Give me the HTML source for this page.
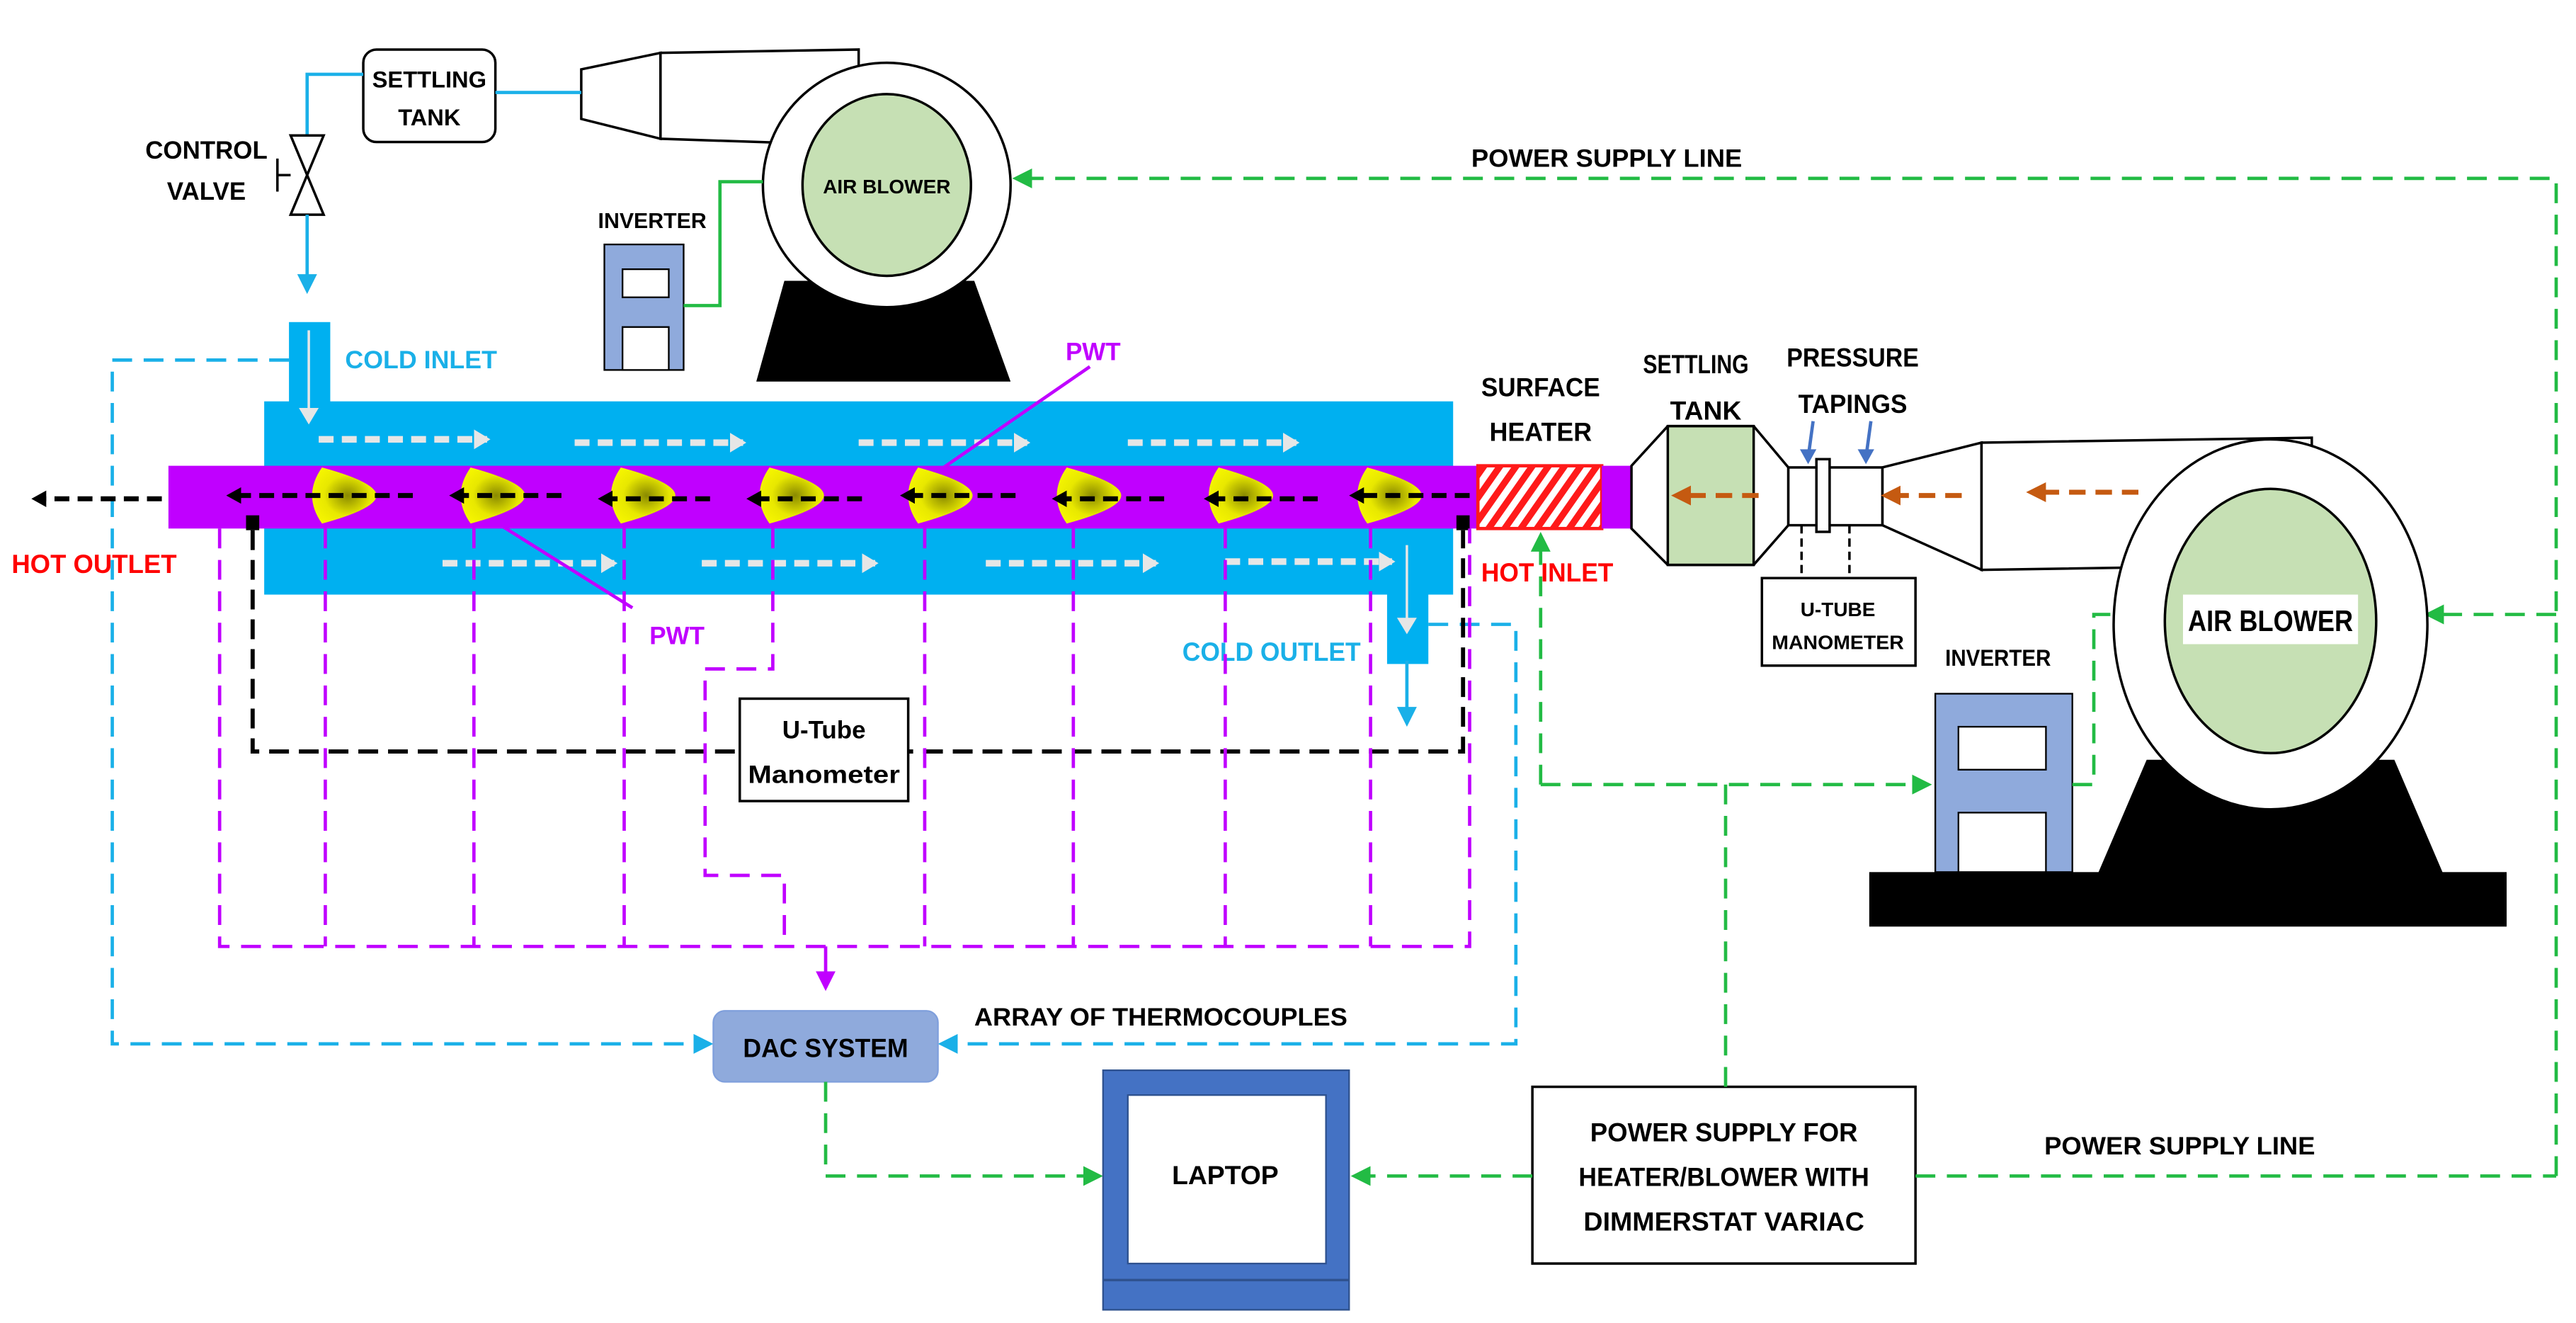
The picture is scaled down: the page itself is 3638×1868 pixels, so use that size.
<!DOCTYPE html>
<html><head><meta charset="utf-8"><style>
html,body{margin:0;padding:0;background:#fff}
svg{display:block}
text{font-family:"Liberation Sans",sans-serif;font-weight:bold}
</style></head><body>
<svg width="3638" height="1868" viewBox="0 0 1560 801" preserveAspectRatio="none" xmlns="http://www.w3.org/2000/svg">
<defs>
<pattern id="hatch" width="8" height="8" patternUnits="userSpaceOnUse" patternTransform="rotate(35)">
<rect width="8" height="8" fill="#fff"/><rect width="4" height="8" fill="#ff1a1a"/></pattern>
<radialGradient id="yg" cx="0.55" cy="0.5" r="0.6"><stop offset="0" stop-color="#8a8a00"/><stop offset="0.6" stop-color="#e8e800"/><stop offset="1" stop-color="#f5f500"/></radialGradient>
<marker id="ak" markerWidth="9" markerHeight="10" refX="6" refY="5" orient="auto" markerUnits="userSpaceOnUse"><path d="M0,0 L9,5 L0,10 Z" fill="#000"/></marker>
<marker id="ag" markerWidth="12" markerHeight="12" refX="10" refY="6" orient="auto" markerUnits="userSpaceOnUse"><path d="M0,0 L12,6 L0,12 Z" fill="#22bb44"/></marker>
<marker id="ab" markerWidth="12" markerHeight="12" refX="10" refY="6" orient="auto" markerUnits="userSpaceOnUse"><path d="M0,0 L12,6 L0,12 Z" fill="#1ab0e8"/></marker>
<marker id="am" markerWidth="12" markerHeight="12" refX="10" refY="6" orient="auto" markerUnits="userSpaceOnUse"><path d="M0,0 L12,6 L0,12 Z" fill="#c000ff"/></marker>
<marker id="aw" markerWidth="10" markerHeight="12" refX="8" refY="6" orient="auto" markerUnits="userSpaceOnUse"><path d="M0,0 L10,6 L0,12 Z" fill="#e6e6e6"/></marker>
<marker id="ao" markerWidth="12" markerHeight="12" refX="8" refY="6" orient="auto" markerUnits="userSpaceOnUse"><path d="M0,0 L12,6 L0,12 Z" fill="#c55a11"/></marker>
</defs>

<!-- top blower -->
<path d="M352,42 L400,32 L400,84 L352,72 Z" fill="#fff" stroke="#000" stroke-width="1.5"/>
<path d="M400,32 L520,30 L520,88 L400,84 Z" fill="#fff" stroke="#000" stroke-width="1.5"/>
<path d="M475,170 L590,170 L612,231 L458,231 Z" fill="#000"/>
<ellipse cx="537" cy="112" rx="75" ry="74" fill="#fff" stroke="#000" stroke-width="1.5"/>
<ellipse cx="537" cy="112" rx="51" ry="55" fill="#c6e0b4" stroke="#000" stroke-width="1.5"/>
<text x="537" y="117" font-size="12" text-anchor="middle">AIR BLOWER</text>
<!-- top inverter -->
<rect x="366" y="148" width="48" height="76" fill="#8faadc" stroke="#000" stroke-width="1"/>
<rect x="377" y="163" width="28" height="17" fill="#fff" stroke="#000"/>
<rect x="377" y="198" width="28" height="26" fill="#fff" stroke="#000"/>
<text x="395" y="138" font-size="13" text-anchor="middle">INVERTER</text>
<polyline points="414,185 436,185 436,110 462,110" fill="none" stroke="#22bb44" stroke-width="2"/>
<!-- settling tank top -->
<rect x="220" y="30" width="80" height="56" rx="8" fill="#fff" stroke="#000" stroke-width="1.5"/>
<text x="260" y="53" font-size="14" text-anchor="middle">SETTLING</text>
<text x="260" y="76" font-size="14" text-anchor="middle">TANK</text>
<line x1="300" y1="56" x2="352" y2="56" stroke="#1ab0e8" stroke-width="2"/>
<polyline points="220,45 186,45 186,82" fill="none" stroke="#1ab0e8" stroke-width="2"/>
<path d="M176,82 L196,82 L176,130 L196,130 Z" fill="#fff" stroke="#000" stroke-width="1.5"/>
<line x1="176" y1="106" x2="168" y2="106" stroke="#000" stroke-width="1.5"/>
<line x1="168" y1="96" x2="168" y2="116" stroke="#000" stroke-width="1.5"/>
<line x1="186" y1="130" x2="186" y2="168" stroke="#1ab0e8" stroke-width="2"/>
<path d="M180,166 L192,166 L186,178 Z" fill="#1ab0e8"/>
<text x="125" y="96" font-size="15" text-anchor="middle" textLength="74" lengthAdjust="spacingAndGlyphs">CONTROL</text>
<text x="125" y="121" font-size="15" text-anchor="middle">VALVE</text>

<!-- power supply top -->
<polyline points="1548,712 1548,108 615,108" fill="none" stroke="#22bb44" stroke-width="2" stroke-dasharray="12,7" marker-end="url(#ag)"/>
<text x="973" y="101" font-size="15" text-anchor="middle" textLength="164" lengthAdjust="spacingAndGlyphs">POWER SUPPLY LINE</text>
<line x1="1548" y1="372" x2="1470" y2="372" stroke="#22bb44" stroke-width="2" stroke-dasharray="12,7" marker-end="url(#ag)"/>

<!-- blue dashed thermocouple lines -->
<polyline points="175,218 68,218 68,632 430,632" fill="none" stroke="#1ab0e8" stroke-width="2" stroke-dasharray="12,7" marker-end="url(#ab)"/>
<polyline points="865,378 918,378 918,632 570,632" fill="none" stroke="#1ab0e8" stroke-width="2" stroke-dasharray="12,7" marker-end="url(#ab)"/>

<!-- water jacket -->
<rect x="160" y="243" width="720" height="117" fill="#00b0f0"/>
<rect x="175" y="195" width="25" height="50" fill="#00b0f0"/>
<line x1="187" y1="200" x2="187" y2="255" stroke="#e6e6e6" stroke-width="1.5" marker-end="url(#aw)"/>
<rect x="840" y="355" width="25" height="47" fill="#00b0f0"/>
<line x1="852" y1="330" x2="852" y2="382" stroke="#e6e6e6" stroke-width="1.5" marker-end="url(#aw)"/>
<line x1="852" y1="400" x2="852" y2="438" stroke="#1ab0e8" stroke-width="2" marker-end="url(#ab)"/>
<text x="255" y="223" font-size="15" fill="#1ab0e8" text-anchor="middle" textLength="92" lengthAdjust="spacingAndGlyphs">COLD INLET</text>
<text x="770" y="400" font-size="16" fill="#1ab0e8" text-anchor="middle" textLength="108" lengthAdjust="spacingAndGlyphs">COLD OUTLET</text>
<g stroke="#e6e6e6" stroke-width="4" stroke-dasharray="9,5">
<line x1="193" y1="266" x2="295" y2="266" marker-end="url(#aw)"/>
<line x1="348" y1="268" x2="450" y2="268" marker-end="url(#aw)"/>
<line x1="520" y1="268" x2="622" y2="268" marker-end="url(#aw)"/>
<line x1="683" y1="268" x2="785" y2="268" marker-end="url(#aw)"/>
<line x1="268" y1="341" x2="372" y2="341" marker-end="url(#aw)"/>
<line x1="425" y1="341" x2="530" y2="341" marker-end="url(#aw)"/>
<line x1="597" y1="341" x2="700" y2="341" marker-end="url(#aw)"/>
<line x1="742" y1="340" x2="843" y2="340" marker-end="url(#aw)"/>
</g>
<!-- hot tube -->
<rect x="102" y="282" width="793" height="38" fill="#c000ff"/>
<rect x="895" y="282" width="75" height="38" fill="url(#hatch)" stroke="#ff1a1a" stroke-width="2"/>
<rect x="970" y="282" width="18" height="38" fill="#c000ff"/>
<g fill="url(#yg)">
<path d="M195,283 Q228,292 228,300 Q228,308 195,317 Q183,300 195,283 Z"/>
<path d="M285,283 Q318,292 318,300 Q318,308 285,317 Q273,300 285,283 Z"/>
<path d="M376,283 Q409,292 409,300 Q409,308 376,317 Q364,300 376,283 Z"/>
<path d="M466,283 Q499,292 499,300 Q499,308 466,317 Q454,300 466,283 Z"/>
<path d="M556,283 Q589,292 589,300 Q589,308 556,317 Q544,300 556,283 Z"/>
<path d="M646,283 Q679,292 679,300 Q679,308 646,317 Q634,300 646,283 Z"/>
<path d="M738,283 Q771,292 771,300 Q771,308 738,317 Q726,300 738,283 Z"/>
<path d="M828,283 Q861,292 861,300 Q861,308 828,317 Q816,300 828,283 Z"/>
</g>
<g stroke="#000" stroke-width="3" stroke-dasharray="9,5">
<line x1="890" y1="300" x2="820" y2="300" marker-end="url(#ak)"/>
<line x1="798" y1="302" x2="732" y2="302" marker-end="url(#ak)"/>
<line x1="705" y1="302" x2="640" y2="302" marker-end="url(#ak)"/>
<line x1="615" y1="300" x2="548" y2="300" marker-end="url(#ak)"/>
<line x1="522" y1="302" x2="455" y2="302" marker-end="url(#ak)"/>
<line x1="430" y1="302" x2="365" y2="302" marker-end="url(#ak)"/>
<line x1="340" y1="300" x2="275" y2="300" marker-end="url(#ak)"/>
<line x1="250" y1="300" x2="140" y2="300" marker-end="url(#ak)"/>
<line x1="98" y1="302" x2="22" y2="302" marker-end="url(#ak)"/>
</g>
<text x="57" y="347" font-size="16" fill="#ff0000" text-anchor="middle" textLength="100" lengthAdjust="spacingAndGlyphs">HOT OUTLET</text>
<text x="937" y="352" font-size="16" fill="#ff0000" text-anchor="middle" textLength="80" lengthAdjust="spacingAndGlyphs">HOT INLET</text>
<!-- PWT -->
<line x1="660" y1="222" x2="570" y2="284" stroke="#c000ff" stroke-width="2"/>
<text x="662" y="218" font-size="15" fill="#c000ff" text-anchor="middle">PWT</text>
<line x1="300" y1="316" x2="383" y2="368" stroke="#c000ff" stroke-width="2"/>
<text x="410" y="390" font-size="15" fill="#c000ff" text-anchor="middle">PWT</text>

<!-- black u tube -->
<rect x="149" y="312" width="8" height="9" fill="#000"/>
<rect x="882" y="312" width="8" height="9" fill="#000"/>
<polyline points="153,321 153,455 886,455 886,321" fill="none" stroke="#000" stroke-width="2.5" stroke-dasharray="12,6"/>
<!-- magenta thermocouple lines -->
<g fill="none" stroke="#c000ff" stroke-width="2" stroke-dasharray="12,7">
<polyline points="133,320 133,573 890,573 890,320"/>
<line x1="197" y1="320" x2="197" y2="573"/>
<line x1="287" y1="320" x2="287" y2="573"/>
<line x1="378" y1="320" x2="378" y2="573"/>
<polyline points="468,320 468,405 427,405 427,530 475,530 475,573"/>
<line x1="560" y1="320" x2="560" y2="573"/>
<line x1="650" y1="320" x2="650" y2="573"/>
<line x1="742" y1="320" x2="742" y2="573"/>
<line x1="830" y1="320" x2="830" y2="573"/>
</g>
<line x1="500" y1="573" x2="500" y2="598" stroke="#c000ff" stroke-width="2" marker-end="url(#am)"/>
<rect x="448" y="423" width="102" height="62" fill="#fff" stroke="#000" stroke-width="1.5"/>
<text x="499" y="447" font-size="15" text-anchor="middle">U-Tube</text>
<text x="499" y="474" font-size="15" text-anchor="middle" textLength="92" lengthAdjust="spacingAndGlyphs">Manometer</text>

<!-- DAC -->
<rect x="432" y="612" width="136" height="43" rx="7" fill="#8faadc" stroke="#7f9fdc" stroke-width="1"/>
<text x="500" y="640" font-size="16" text-anchor="middle" textLength="100" lengthAdjust="spacingAndGlyphs">DAC SYSTEM</text>
<text x="703" y="621" font-size="15" text-anchor="middle" textLength="226" lengthAdjust="spacingAndGlyphs">ARRAY OF THERMOCOUPLES</text>
<polyline points="500,655 500,712 666,712" fill="none" stroke="#22bb44" stroke-width="2" stroke-dasharray="12,7" marker-end="url(#ag)"/>
<!-- laptop -->
<rect x="668" y="648" width="149" height="145" fill="#4472c4" stroke="#2f528f" stroke-width="1"/>
<rect x="683" y="663" width="120" height="102" fill="#fff" stroke="#2f528f"/>
<line x1="668" y1="775" x2="817" y2="775" stroke="#2f528f" stroke-width="1.5"/>
<text x="742" y="717" font-size="16" text-anchor="middle">LAPTOP</text>
<!-- power supply box -->
<rect x="928" y="658" width="232" height="107" fill="#fff" stroke="#000" stroke-width="1.5"/>
<text x="1044" y="691" font-size="16" text-anchor="middle" textLength="162" lengthAdjust="spacingAndGlyphs">POWER SUPPLY FOR</text>
<text x="1044" y="718" font-size="16" text-anchor="middle" textLength="176" lengthAdjust="spacingAndGlyphs">HEATER/BLOWER WITH</text>
<text x="1044" y="745" font-size="16" text-anchor="middle" textLength="170" lengthAdjust="spacingAndGlyphs">DIMMERSTAT VARIAC</text>
<line x1="928" y1="712" x2="820" y2="712" stroke="#22bb44" stroke-width="2" stroke-dasharray="12,7" marker-end="url(#ag)"/>
<line x1="1160" y1="712" x2="1548" y2="712" stroke="#22bb44" stroke-width="2" stroke-dasharray="12,7"/>
<text x="1320" y="699" font-size="15" text-anchor="middle" textLength="164" lengthAdjust="spacingAndGlyphs">POWER SUPPLY LINE</text>
<line x1="1045" y1="658" x2="1045" y2="475" stroke="#22bb44" stroke-width="2" stroke-dasharray="12,7"/>
<line x1="933" y1="475" x2="1168" y2="475" stroke="#22bb44" stroke-width="2" stroke-dasharray="12,7" marker-end="url(#ag)"/>
<line x1="933" y1="475" x2="933" y2="324" stroke="#22bb44" stroke-width="2" stroke-dasharray="12,7" marker-end="url(#ag)"/>

<!-- right side -->
<text x="933" y="240" font-size="16" text-anchor="middle" textLength="72" lengthAdjust="spacingAndGlyphs">SURFACE</text>
<text x="933" y="267" font-size="16" text-anchor="middle" textLength="62" lengthAdjust="spacingAndGlyphs">HEATER</text>
<text x="1027" y="226" font-size="16" text-anchor="middle" textLength="64" lengthAdjust="spacingAndGlyphs">SETTLING</text>
<text x="1033" y="254" font-size="16" text-anchor="middle">TANK</text>
<text x="1122" y="222" font-size="16" text-anchor="middle" textLength="80" lengthAdjust="spacingAndGlyphs">PRESSURE</text>
<text x="1122" y="250" font-size="16" text-anchor="middle" textLength="66" lengthAdjust="spacingAndGlyphs">TAPINGS</text>
<path d="M988,282 L1010,258 L1062,258 L1083,283 L1083,318 L1062,342 L1010,342 L988,320 Z" fill="#fff" stroke="#000" stroke-width="1.5"/>
<rect x="1010" y="258" width="52" height="84" fill="#c6e0b4" stroke="#000" stroke-width="1.5"/>
<rect x="1083" y="283" width="57" height="35" fill="#fff" stroke="#000" stroke-width="1.5"/>
<rect x="1100" y="278" width="8" height="44" fill="#fff" stroke="#000" stroke-width="1.5"/>
<path d="M1140,283 L1200,268 L1200,345 L1140,318 Z" fill="#fff" stroke="#000" stroke-width="1.5"/>
<path d="M1200,268 L1400,265 L1400,342 L1200,345 Z" fill="#fff" stroke="#000" stroke-width="1.5"/>
<g stroke="#4472c4" stroke-width="2"><line x1="1098" y1="255" x2="1095" y2="277"/><line x1="1133" y1="255" x2="1130" y2="277"/></g>
<path d="M1090,272 L1100,272 L1095,281 Z" fill="#4472c4"/><path d="M1125,272 L1135,272 L1130,281 Z" fill="#4472c4"/>
<g stroke="#000" stroke-width="1.5" stroke-dasharray="5,3"><line x1="1091" y1="318" x2="1091" y2="350"/><line x1="1120" y1="318" x2="1120" y2="350"/></g>
<rect x="1067" y="350" width="93" height="53" fill="#fff" stroke="#000" stroke-width="1.5"/>
<text x="1113" y="373" font-size="12" text-anchor="middle">U-TUBE</text>
<text x="1113" y="393" font-size="12" text-anchor="middle" textLength="80" lengthAdjust="spacingAndGlyphs">MANOMETER</text>
<g stroke="#c55a11" stroke-width="3" stroke-dasharray="10,6">
<line x1="1065" y1="300" x2="1016" y2="300" marker-end="url(#ao)"/>
<line x1="1188" y1="300" x2="1143" y2="300" marker-end="url(#ao)"/>
<line x1="1295" y1="298" x2="1231" y2="298" marker-end="url(#ao)"/>
</g>
<!-- right blower -->
<path d="M1300,460 L1450,460 L1480,530 L1270,530 Z" fill="#000"/>
<rect x="1132" y="528" width="386" height="33" fill="#000"/>
<ellipse cx="1375" cy="378" rx="95" ry="112" fill="#fff" stroke="#000" stroke-width="1.5"/>
<ellipse cx="1375" cy="376" rx="64" ry="80" fill="#c6e0b4" stroke="#000" stroke-width="1.5"/>
<rect x="1322" y="360" width="106" height="30" fill="#fff"/>
<text x="1375" y="382" font-size="18" text-anchor="middle" textLength="100" lengthAdjust="spacingAndGlyphs">AIR BLOWER</text>
<rect x="1172" y="420" width="83" height="108" fill="#8faadc" stroke="#000" stroke-width="1"/>
<rect x="1186" y="440" width="53" height="26" fill="#fff" stroke="#000"/>
<rect x="1186" y="492" width="53" height="36" fill="#fff" stroke="#000"/>
<text x="1210" y="403" font-size="14" text-anchor="middle" textLength="64" lengthAdjust="spacingAndGlyphs">INVERTER</text>
<polyline points="1255,475 1268,475 1268,372 1282,372" fill="none" stroke="#22bb44" stroke-width="2" stroke-dasharray="12,7"/>
</svg>
</body></html>
